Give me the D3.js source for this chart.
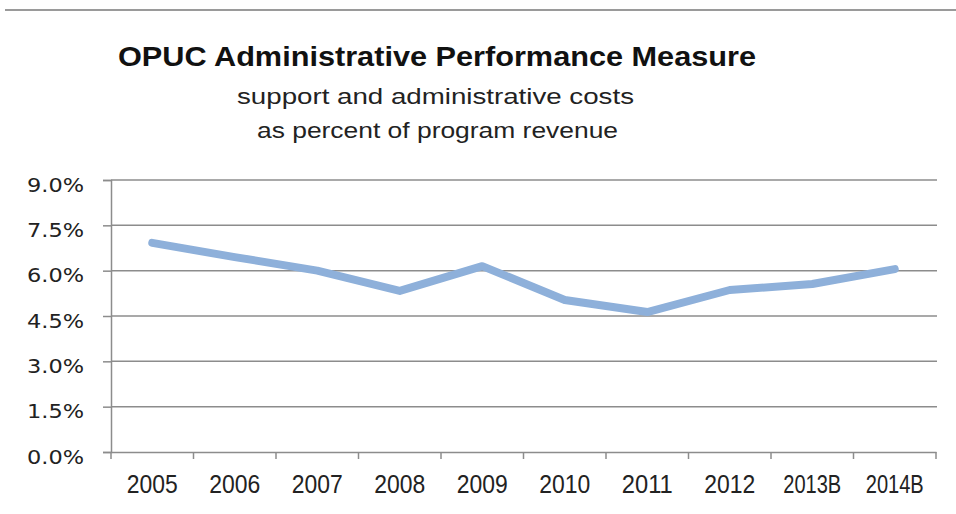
<!DOCTYPE html>
<html><head><meta charset="utf-8">
<script src="https://cdn.jsdelivr.net/npm/d3@7"></script>
<style>
html,body{margin:0;padding:0;background:#fff;}
svg{display:block;}
</style></head>
<body>
<script>
const categories = ["2005","2006","2007","2008","2009","2010","2011","2012","2013B","2014B"];
const values = [6.92, 6.45, 6.0, 5.33, 6.15, 5.03, 4.63, 5.36, 5.56, 6.05];
const yTicks = [0, 1.5, 3.0, 4.5, 6.0, 7.5, 9.0];
const title = "OPUC Administrative Performance Measure";
const subtitle1 = "support and administrative costs";
const subtitle2 = "as percent of program revenue";

const W = 956, H = 514;
const svg = d3.select("body").append("svg").attr("width", W).attr("height", H);

// top rule
svg.append("line").attr("x1",5).attr("x2",W).attr("y1",10).attr("y2",10)
  .attr("stroke","#9a9a9a").attr("stroke-width",2);

const x = d3.scaleBand().domain(categories).range([111, 936]);
const y = d3.scaleLinear().domain([0, 9]).range([452, 180]);

// gridlines
svg.append("g").selectAll("line").data(yTicks.filter(d=>d>0)).join("line")
  .attr("x1",111).attr("x2",937).attr("y1",d=>y(d)).attr("y2",d=>y(d))
  .attr("stroke","#8c8c8c").attr("stroke-width",1.5);

// y axis
const yAxis = svg.append("g").attr("transform","translate(111,0)")
  .call(d3.axisLeft(y).tickValues(yTicks).tickSize(8).tickPadding(0).tickFormat(d=>d.toFixed(1)+"%"));
yAxis.select(".domain").attr("stroke","#8c8c8c").attr("stroke-width",1.5);
yAxis.selectAll(".tick line").attr("stroke","#8c8c8c").attr("stroke-width",1.5);
yAxis.selectAll(".tick text").attr("x",-27).attr("dy","0.55em")
  .attr("fill","#222").style("font-family","DejaVu Sans, Verdana, sans-serif").style("font-size","20px")
  .attr("textLength",57).attr("lengthAdjust","spacingAndGlyphs");

// x axis
const xAxis = svg.append("g").attr("transform","translate(0,452)")
  .call(d3.axisBottom(x).tickSize(0).tickPadding(0));
xAxis.select(".domain").attr("stroke","#8c8c8c").attr("stroke-width",1.5);
const bounds = categories.map(c=>x(c)).concat([x.range()[1]]);
xAxis.append("g").selectAll("line").data(bounds).join("line")
  .attr("x1",d=>d).attr("x2",d=>d).attr("y1",0).attr("y2",7)
  .attr("stroke","#8c8c8c").attr("stroke-width",1.5);
xAxis.selectAll(".tick text").attr("y",41).attr("dy",0)
  .attr("fill","#222").style("font-family","'Liberation Sans Narrow', 'Liberation Sans', Arial, sans-serif")
  .style("font-size","25px")
  .attr("textLength",d=>d.length>4?58:51).attr("lengthAdjust","spacingAndGlyphs");

// line
const line = d3.line().x((d,i)=>x(categories[i])+x.bandwidth()/2).y(d=>y(d));
svg.append("path").datum(values).attr("d",line)
  .attr("fill","none").attr("stroke","#8eb0da").attr("stroke-width",8)
  .attr("stroke-linejoin","round").attr("stroke-linecap","round");

// titles
svg.append("text").attr("x",118).attr("y",66).text(title)
  .style("font-family","'Liberation Sans', Arial, sans-serif").style("font-weight","bold").style("font-size","28px")
  .attr("fill","#111").attr("textLength",638).attr("lengthAdjust","spacingAndGlyphs");
svg.append("text").attr("x",237).attr("y",104).text(subtitle1)
  .style("font-family","'Liberation Sans', Arial, sans-serif").style("font-size","22px")
  .attr("fill","#222").attr("textLength",397).attr("lengthAdjust","spacingAndGlyphs");
svg.append("text").attr("x",257).attr("y",138).text(subtitle2)
  .style("font-family","'Liberation Sans', Arial, sans-serif").style("font-size","22px")
  .attr("fill","#222").attr("textLength",361).attr("lengthAdjust","spacingAndGlyphs");
</script>
</body></html>
